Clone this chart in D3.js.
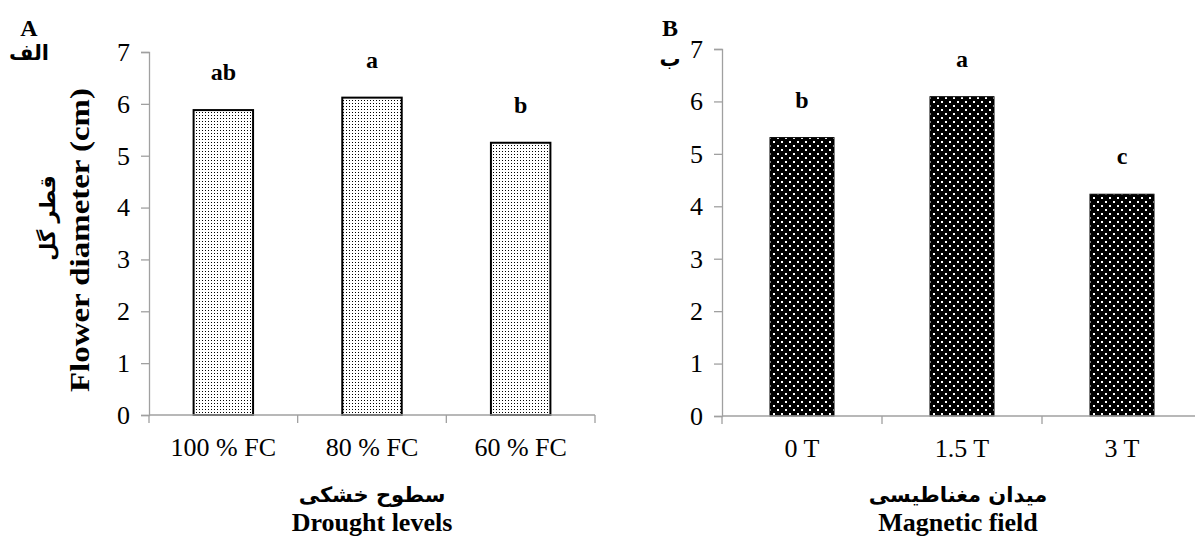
<!DOCTYPE html>
<html>
<head>
<meta charset="utf-8">
<script src="https://cdn.jsdelivr.net/npm/d3@7"></script>
<style>
  html, body { margin: 0; padding: 0; background: #fff; }
  svg { display: block; }
  text { font-family: "Liberation Serif", "Times New Roman", "DejaVu Serif", serif; fill: #000; }
  .ar { font-family: "DejaVu Sans", "Noto Sans", sans-serif; }
</style>
</head>
<body>
<svg id="chart" width="1195" height="540"></svg>
<script>
// ---------- data ----------
const droughtCategories = ["100 % FC", "80 % FC", "60 % FC"];
const droughtValues = [5.88, 6.12, 5.25];
const droughtLetters = ["ab", "a", "b"];

const magneticCategories = ["0 T", "1.5 T", "3 T"];
const magneticValues = [5.31, 6.09, 4.23];
const magneticLetters = ["b", "a", "c"];

const yTicks = [0, 1, 2, 3, 4, 5, 6, 7];

// ---------- drawing ----------
const svg = d3.select("#chart");
const defs = svg.append("defs");

// light dotted pattern (panel A)
const pA = defs.append("pattern").attr("id", "dotsLight")
  .attr("patternUnits", "userSpaceOnUse").attr("width", 3).attr("height", 3);
pA.append("rect").attr("width", 3).attr("height", 3).attr("fill", "#fff");
pA.append("rect").attr("x", 1).attr("y", 1).attr("width", 1).attr("height", 1).attr("fill", "#000");

// dark pattern with white dots (panel B)
const pB = defs.append("pattern").attr("id", "dotsDark")
  .attr("patternUnits", "userSpaceOnUse").attr("width", 8).attr("height", 8);
pB.append("rect").attr("width", 8).attr("height", 8).attr("fill", "#000");
pB.append("rect").attr("x", 1).attr("y", 1).attr("width", 2).attr("height", 2).attr("fill", "#fff");
pB.append("rect").attr("x", 5).attr("y", 5).attr("width", 2).attr("height", 2).attr("fill", "#fff");

const axisColor = "#a0a0a0";

function panel(cfg) {
  const g = svg.append("g");
  const x = d3.scaleBand().domain(cfg.categories).range([cfg.x0, cfg.x1])
    .paddingInner(0.6).paddingOuter(0.3);
  const y = d3.scaleLinear().domain([0, 7]).range([cfg.yBottom, cfg.yTop]);

  // y axis
  const yAx = g.append("g").attr("transform", `translate(${cfg.x0},0)`)
    .call(d3.axisLeft(y).tickValues(yTicks).tickSize(8).tickPadding(11).tickFormat(d3.format("d")));
  yAx.select(".domain").attr("stroke", axisColor).attr("stroke-width", 1.3);
  yAx.selectAll(".tick line").attr("stroke", axisColor).attr("stroke-width", 1.3);
  yAx.selectAll(".tick text").attr("font-size", 26)
    .style("font-family", '"Liberation Serif", serif').attr("fill", "#000");

  // bars
  g.selectAll("rect.bar").data(cfg.values).enter().append("rect")
    .attr("class", "bar")
    .attr("x", (d, i) => x(cfg.categories[i]))
    .attr("width", x.bandwidth())
    .attr("y", d => y(d))
    .attr("height", d => y(0) - y(d))
    .attr("fill", `url(#${cfg.pattern})`)
    .attr("stroke", "#000")
    .attr("stroke-width", cfg.barStroke);

  // x axis (labels at category centres, ticks at category boundaries)
  const xAx = g.append("g").attr("transform", `translate(0,${cfg.yBottom})`)
    .call(d3.axisBottom(x).tickSize(0).tickPadding(23));
  xAx.select(".domain").remove();
  xAx.selectAll(".tick text").attr("font-size", 26)
    .style("font-family", '"Liberation Serif", serif').attr("fill", "#000");
  const bounds = d3.range(cfg.categories.length + 1).map(i => cfg.x0 + i * x.step());
  g.append("line").attr("x1", cfg.x0).attr("x2", bounds[bounds.length - 1])
    .attr("y1", cfg.yBottom).attr("y2", cfg.yBottom)
    .attr("stroke", axisColor).attr("stroke-width", 1.3);
  g.selectAll("line.xt").data(bounds).enter().append("line")
    .attr("class", "xt")
    .attr("x1", d => d).attr("x2", d => d)
    .attr("y1", cfg.yBottom).attr("y2", cfg.yBottom + 8)
    .attr("stroke", axisColor).attr("stroke-width", 1.3);

  // significance letters
  g.selectAll("text.sig").data(cfg.values).enter().append("text")
    .attr("class", "sig")
    .attr("x", (d, i) => x(cfg.categories[i]) + x.bandwidth() / 2)
    .attr("y", d => y(d) - 30)
    .attr("text-anchor", "middle")
    .attr("font-size", 24).attr("font-weight", "bold")
    .text((d, i) => cfg.letters[i]);

  // x titles
  const cx = cfg.titleX;
  g.append("text").attr("class", "ar").attr("x", cx).attr("y", 502)
    .attr("text-anchor", "middle").attr("font-size", 21).attr("font-weight", "bold")
    .attr("direction", "rtl").text(cfg.titleFa);
  g.append("text").attr("x", cx).attr("y", 531)
    .attr("text-anchor", "middle").attr("font-size", 26).attr("font-weight", "bold")
    .text(cfg.titleEn);

  // panel letters
  g.append("text").attr("x", cfg.letterX).attr("y", 36)
    .attr("text-anchor", "middle").attr("font-size", 24).attr("font-weight", "bold")
    .text(cfg.panelEn);
  g.append("text").attr("class", "ar").attr("x", cfg.letterX).attr("y", cfg.panelFaY)
    .attr("text-anchor", "middle").attr("font-size", 21).attr("font-weight", "bold")
    .attr("direction", "rtl").text(cfg.panelFa);
  return { x, y };
}

panel({
  categories: droughtCategories, values: droughtValues, letters: droughtLetters,
  x0: 149, x1: 595, yBottom: 415, yTop: 52, pattern: "dotsLight", barStroke: 2,
  titleX: 372, titleFa: "سطوح خشکی", titleEn: "Drought levels",
  letterX: 29, panelEn: "A", panelFa: "الف", panelFaY: 60
});

panel({
  categories: magneticCategories, values: magneticValues, letters: magneticLetters,
  x0: 722, x1: 1202, yBottom: 416, yTop: 49, pattern: "dotsDark", barStroke: 1,
  titleX: 958, titleFa: "میدان مغناطیسی", titleEn: "Magnetic field",
  letterX: 670, panelEn: "B", panelFa: "ب", panelFaY: 66
});

// y-axis titles (panel A only)
svg.append("text")
  .attr("transform", "translate(89,240) rotate(-90)")
  .attr("text-anchor", "middle").attr("font-size", 27).attr("font-weight", "bold")
  .attr("textLength", 304).attr("lengthAdjust", "spacingAndGlyphs")
  .text("Flower diameter (cm)");
svg.append("text").attr("class", "ar")
  .attr("transform", "translate(55,218) rotate(-90)")
  .attr("text-anchor", "middle").attr("font-size", 21).attr("font-weight", "bold")
  .attr("direction", "rtl")
  .text("قطر گل");
</script>
</body>
</html>
